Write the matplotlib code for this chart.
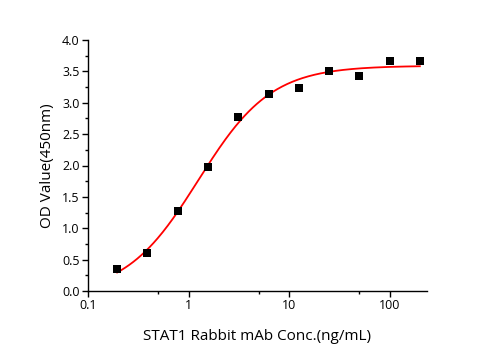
import numpy as np
import matplotlib
matplotlib.use("Agg")
import matplotlib.pyplot as plt
from matplotlib.ticker import FixedLocator, NullFormatter, MultipleLocator

conc = [0.195, 0.39, 0.78, 1.56, 3.125, 6.25, 12.5, 25, 50, 100, 200]
od = [0.35, 0.60, 1.27, 1.98, 2.78, 3.14, 3.23, 3.50, 3.43, 3.66, 3.67]
x_ticks = [0.1, 1, 10, 100]
x_ticklabels = ["0.1", "1", "10", "100"]
y_ticks = [0.0, 0.5, 1.0, 1.5, 2.0, 2.5, 3.0, 3.5, 4.0]

xd = np.array(conc)
yd = np.array(od)

def fourpl(x, a, d, c, b):
    return d + (a - d) / (1 + (x / c) ** b)

# grid-search fit of 4PL to the data
best = None
for a in np.linspace(-0.2, 0.3, 26):
    for d in np.linspace(3.4, 3.8, 41):
        C, B = np.meshgrid(np.linspace(0.8, 3.0, 45), np.linspace(0.8, 2.0, 49))
        pred = d + (a - d) / (1 + (xd[None, None, :] / C[..., None]) ** B[..., None])
        sse = ((pred - yd) ** 2).sum(-1)
        i = np.unravel_index(np.argmin(sse), sse.shape)
        if best is None or sse[i] < best[0]:
            best = (sse[i], a, d, C[i], B[i])
_, a, d, c, b = best

plt.rcParams['font.family'] = ['Open Sans', 'DejaVu Sans']
fig = plt.figure(figsize=(4.95, 3.5), dpi=100)
ax = fig.add_axes([88/495, 1-291/350, (426.7-88)/495, (291-40)/350])

xf = np.logspace(np.log10(xd.min()), np.log10(xd.max()), 300)
ax.plot(xf, fourpl(xf, a, d, c, b), color='#ff0000', lw=1.3, zorder=2)
ax.scatter(xd, yd, marker='s', s=28, color='black', zorder=3, linewidths=0)

ax.set_xscale('log')
ax.set_xlim(0.1, 234)
ax.set_ylim(0, 4.0)
ax.xaxis.set_major_locator(FixedLocator(x_ticks))
ax.set_xticklabels(x_ticklabels)
ax.xaxis.set_minor_locator(FixedLocator([0.5, 5, 50]))
ax.xaxis.set_minor_formatter(NullFormatter())
ax.set_yticks(y_ticks)
ax.set_yticklabels([f"{v:.1f}" for v in y_ticks])
ax.yaxis.set_minor_locator(MultipleLocator(0.25))

for s in ['top', 'right']:
    ax.spines[s].set_visible(False)
for s in ['left', 'bottom']:
    ax.spines[s].set_linewidth(1.0)
ax.tick_params(which='major', direction='out', length=4, width=1, labelsize=9, pad=2)
ax.tick_params(which='minor', direction='out', length=2.5, width=1)

ax.set_xlabel("STAT1 Rabbit mAb Conc.(ng/mL)", fontsize=11, labelpad=12)
ax.set_ylabel("OD Value(450nm)", fontsize=11, labelpad=5)

fig.savefig("out.png", dpi=100)
